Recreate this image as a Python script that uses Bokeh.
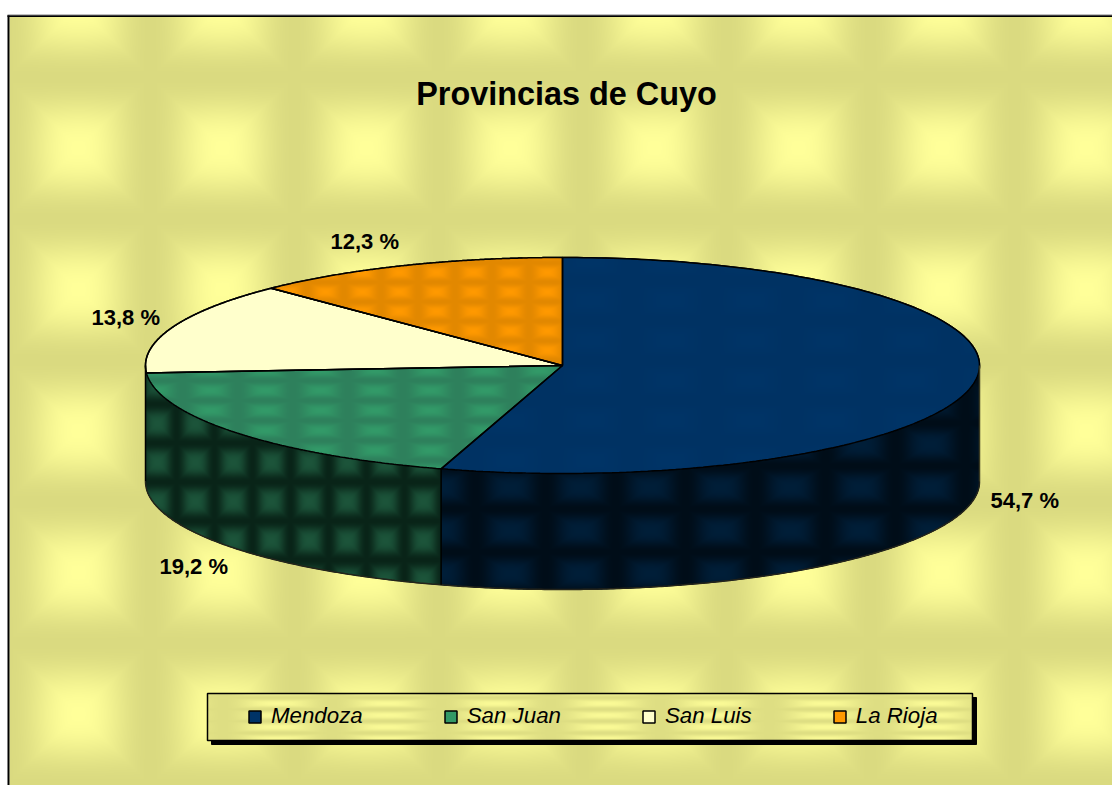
import numpy as np
from bokeh.core.properties import value
from bokeh.embed import file_html
from bokeh.models import Legend, LegendItem, Range1d
from bokeh.plotting import figure
from bokeh.resources import INLINE

# ---- data ----
provinces = ["Mendoza", "San Juan", "San Luis", "La Rioja"]
shares = [54.7, 19.2, 13.8, 12.3]
chart_title = "Provincias de Cuyo"

# ---- style / layout ----
top_colors = ["#003366", "#339966", "#FFFFCC", "#FF9900"]
label_pos = [(990, 500), (159, 566), (91, 317), (330, 241)]
CX, CY, RX, RY, DEPTH = 562.0, 365.0, 417.0, 108.0, 116.0
W, H = 1112, 785
LEG = (207, 693, 972, 740)       # legend box, page pixels
FONT = value("Liberation Sans")


def Y(py):
    return H - np.asarray(py, dtype=float)


def pack(rgb, alpha=None):
    r, g, b = [np.clip(np.rint(c), 0, 255).astype(np.uint32) for c in rgb]
    a = np.full(r.shape, 255, np.uint32) if alpha is None else (alpha * 255).astype(np.uint32)
    return r | (g << 8) | (b << 16) | (a << 24)


def grid(x0, y0, x1, y1):
    xs = np.arange(x0, x1) + 0.5
    ys = (np.arange(y0, y1) + 0.5)[::-1]   # row 0 is drawn at the bottom
    return np.meshgrid(xs, ys)


def tile(px, py, x0, y0, pw, ph, soft=1.2):
    fx = 0.5 + 0.5 * np.cos(2 * np.pi * (px - x0) / pw)
    fy = 0.5 + 0.5 * np.cos(2 * np.pi * (py - y0) / ph)
    t = 0.7 * np.minimum(fx, fy) + 0.3 * fx * fy
    return 1 - (1 - t) ** soft


def mix(t, dark, bright):
    return [d + (b - d) * t for d, b in zip(dark, bright)]


p = figure(width=W, height=H, output_backend="svg", toolbar_location=None, tools="",
           x_range=Range1d(0, W), y_range=Range1d(0, H),
           x_axis_type=None, y_axis_type=None, min_border=0,
           background_fill_color="white", border_fill_color="white", outline_line_color=None)
p.grid.visible = False

# page background texture
px, py = grid(9, 16, W, H)
p.image_rgba(image=[pack(mix(tile(px, py, 78, 6, 144, 141.5), (218, 218, 128), (255, 255, 153)))],
             x=9, y=0, dw=W - 9, dh=H - 16)
p.segment(x0=[7, 7], y0=Y([15.5, 14.5]), x1=[W, W], y1=Y([15.5, 14.5]),
          line_color=["black", "#808080"], line_width=[2, 1])
p.segment(x0=[8], y0=Y([15]), x1=[8], y1=Y([H]), line_color="black", line_width=2)

# slices, from the shares, clockwise from 12 o'clock
edges = np.cumsum([0.0] + shares) / sum(shares) * 2 * np.pi
spans = list(zip(edges[:-1], edges[1:]))


def ex(a):
    return CX + RX * np.sin(a)


def ey(a):
    return CY - RY * np.cos(a)


# side walls (front half of the disc only)
side_colors = ["#001428", "#123F2B"]
for (a0, a1), col in zip(spans[:2], side_colors):
    lo, hi = max(a0, np.pi / 2), min(a1, 3 * np.pi / 2)
    t = np.linspace(lo, hi, 160)
    xs = np.r_[ex(t), ex(t[::-1])]
    ys = np.r_[ey(t), ey(t[::-1]) + DEPTH]
    p.patch(xs, Y(ys), fill_color=col, line_color=col)

# top faces, these also feed the legend
faces = []
for (a0, a1), col in zip(spans, top_colors):
    t = np.linspace(a0, a1, 200)
    r = p.patch(np.r_[CX, ex(t)], Y(np.r_[CY, ey(t)]), fill_color=col,
                line_color="black", line_width=1.5)
    faces.append(r)

# pie texture overlay, masked by the slices computed from the shares
bx0, by0, bx1, by1 = 140, 250, 985, 595
px, py = grid(bx0, by0, bx1, by1)
u, v = (px - CX) / RX, (py - CY) / RY
on_top = u**2 + v**2 <= 1
ang = np.mod(np.arctan2(u, -v), 2 * np.pi)
R, G, B, A = [np.zeros(px.shape) for _ in range(4)]


def paint(mask, rgb):
    for ch, c in zip((R, G, B), rgb):
        ch[mask] = c[mask]
    A[mask] = 1.0


paint(on_top & (ang >= spans[1][0]) & (ang < spans[1][1]),
      mix(tile(px, py, 210, 390, 55, 20), (46, 128, 92), (50, 154, 104)))
paint(on_top & (ang >= spans[3][0]),
      mix(tile(px, py, 547, 272, 37, 19.5), (226, 136, 0), (255, 153, 0)))
paint(on_top & (ang < spans[0][1]),
      mix(tile(px, py, 510, 300, 80, 40), (0, 50, 99), (0, 52, 103)))
lower = CY + RY * np.sqrt(np.clip(1 - u**2, 0, 1))
on_side = (~on_top) & (np.abs(u) <= 1) & (py >= CY) & (py <= lower + DEPTH)
split_x = ex(spans[0][1])
paint(on_side & (px >= split_x),
      mix(tile(px, py, 510, 530, 70, 43, 1.5), (0, 13, 24), (0, 30, 56)))
paint(on_side & (px < split_x),
      mix(tile(px, py, 157, 423, 38, 39, 1.5), (9, 36, 24), (28, 84, 58)))
p.image_rgba(image=[pack((R, G, B), A)], x=bx0, y=float(Y(by1)), dw=bx1 - bx0, dh=by1 - by0)

# outlines on top of the texture
for a0, a1 in spans:
    t = np.linspace(a0, a1, 200)
    p.line(np.r_[CX, ex(t), CX], Y(np.r_[CY, ey(t), CY]), line_color="black", line_width=1.5)
t = np.linspace(np.pi / 2, 3 * np.pi / 2, 400)
p.line(ex(t), Y(ey(t) + DEPTH), line_color="#24241a", line_width=1.5)
p.segment(x0=[CX + RX, CX - RX, split_x], y0=Y([CY, CY, ey(spans[0][1])]),
          x1=[CX + RX, CX - RX, split_x], y1=Y([CY + DEPTH, CY + DEPTH, ey(spans[0][1]) + DEPTH]),
          line_color=["#3a3a22", "black", "black"], line_width=1.5)

# value labels and title
p.text(x=[q[0] for q in label_pos], y=Y([q[1] for q in label_pos]),
       text=[f"{s:.1f} %".replace(".", ",") for s in shares],
       text_font=FONT, text_font_style="bold", text_font_size="22px",
       text_align="left", text_baseline="middle", text_color="black")
p.text(x=[566], y=Y([93]), text=[chart_title], text_font=FONT, text_font_style="bold",
       text_font_size="32.4px", text_align="center", text_baseline="middle", text_color="black")

# legend box
lx0, ly0, lx1, ly1 = LEG
p.quad(left=lx0 + 4, right=lx1 + 4, top=Y(ly0 + 4), bottom=Y(ly1 + 4), fill_color="black", line_color="black")
px, py = grid(lx0, ly0, lx1, ly1)
p.image_rgba(image=[pack(mix(tile(px, py, 277, 703, 109.3, 11.8), (222, 222, 131), (250, 250, 150)))],
             x=lx0, y=float(Y(ly1)), dw=lx1 - lx0, dh=ly1 - ly0)
p.quad(left=lx0, right=lx1, top=Y(ly0), bottom=Y(ly1), fill_alpha=0, line_color="black", line_width=1.5)

legend = Legend(items=[LegendItem(label=value(n), renderers=[r]) for n, r in zip(provinces, faces)],
                orientation="horizontal", location=(247, 56), padding=0, margin=0, spacing=80,
                glyph_width=15, glyph_height=15, label_height=15, label_standoff=9,
                background_fill_alpha=0, border_line_alpha=0,
                label_text_font="Liberation Sans", label_text_font_style="italic",
                label_text_font_size="22.3px", label_text_color="black")
p.add_layout(legend, "center")

open("out.html", "w").write(file_html(p, INLINE))
